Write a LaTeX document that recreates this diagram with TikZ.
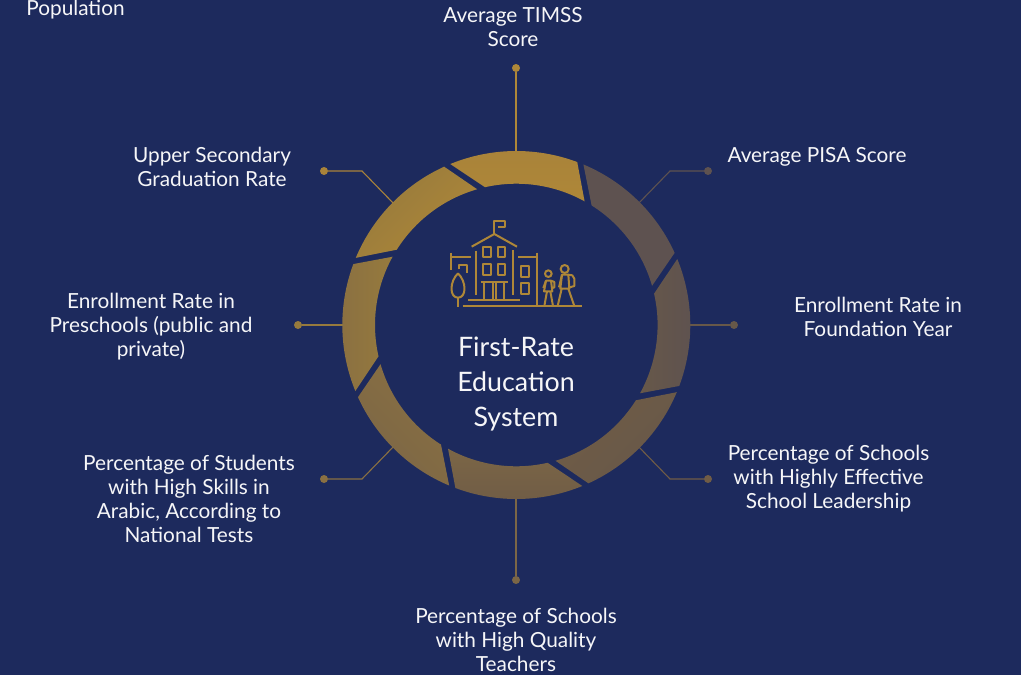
\documentclass[tikz,border=0pt]{standalone}
\usepackage{fontspec}
\setmainfont{Lato}
\usetikzlibrary{calc}
\definecolor{bg}{HTML}{1D2A5D}
\definecolor{gold}{HTML}{AE8738}
\definecolor{ink}{HTML}{F6F6F8}
\definecolor{cA}{HTML}{AE8738}
\definecolor{cB}{HTML}{5E5250}
\definecolor{cC}{HTML}{675849}
\definecolor{cD}{HTML}{705C46}
\definecolor{cE}{HTML}{7B6646}
\definecolor{cF}{HTML}{8A7042}
\definecolor{cG}{HTML}{967A3D}
\definecolor{cH}{HTML}{A9833A}
\tikzset{
  lab/.style={text=ink,font=\fontsize{20.8}{24}\selectfont,align=center,inner sep=0pt},
  ctr/.style={text=ink,font=\fontsize{26.8}{35}\selectfont,align=center,inner sep=0pt},
  dotn/.style={circle,inner sep=0pt,minimum size=8pt},
  conn/.style={line width=1.1pt},
  ico/.style={draw=gold,line width=2pt,line cap=butt,line join=round},
}
\newcommand{\seg}[3]{% theta, startcolor, endcolor
  \pgfmathsetmacro{\sh}{#1-90}
  \shade[left color=#2,right color=#3,shading angle=\sh]
    ($(c)+(#1+22.3:174)$) arc[start angle=#1+22.3,end angle=#1-20.5,radius=174]
    -- ($(c)+(#1-28.9:141.3)$) arc[start angle=#1-28.9,end angle=#1+12.8,radius=141.3] -- cycle;
}
\begin{document}
\begin{tikzpicture}[x=1pt,y=1pt]
\path[use as bounding box,fill=bg] (0,0) rectangle (1021,-675);
\coordinate (c) at (516.3,-325);
% connectors
\node[dotn,fill=cA] (d1) at (516,-68) {};
\node[dotn,fill=cB] (d2) at (708,-171) {};
\node[dotn,fill=cC] (d3) at (734,-325) {};
\node[dotn,fill=cD] (d4) at (708,-479) {};
\node[dotn,fill=cE] (d5) at (516,-580) {};
\node[dotn,fill=cF] (d6) at (324,-479) {};
\node[dotn,fill=cG] (d7) at (298,-325) {};
\node[dotn,fill=cH] (d8) at (324,-171) {};
\coordinate (r1) at (516,-155);
\coordinate (r2) at (636,-206);
\coordinate (b2) at (670,-171);
\coordinate (r3) at (685,-325);
\coordinate (r4) at (636,-444);
\coordinate (b4) at (670,-479);
\coordinate (r5) at (516,-495);
\coordinate (r6) at (396,-444);
\coordinate (b6) at (362,-479);
\coordinate (r7) at (347,-325);
\coordinate (r8) at (396,-206);
\coordinate (b8) at (362,-171);
\draw[conn,cA] (d1)--(r1);
\draw[conn,cB] (d2)--(b2)--(r2);
\draw[conn,cC] (d3)--(r3);
\draw[conn,cD] (d4)--(b4)--(r4);
\draw[conn,cE] (d5)--(r5);
\draw[conn,cF] (d6)--(b6)--(r6);
\draw[conn,cG] (d7)--(r7);
\draw[conn,cH] (d8)--(b8)--(r8);
% ring
\seg{90}{cH}{cA}
\seg{45}{cB}{cB}
\seg{0}{cB}{cC}
\seg{-45}{cC}{cD}
\seg{-90}{cD}{cE}
\seg{-135}{cE}{cF}
\seg{180}{cF}{cG}
\seg{135}{cG}{cA}
% icon
\begin{scope}[shift={(440pt,-210pt)},x=0.3333pt,y=-0.3333pt]
\draw[ico] (163,72)--(163,33)--(195,33)--(195,52)--(175,52);
\draw[ico] (95,110)--(163,72)--(231,110);
\draw[ico] (107,122)--(107,255) (220,120)--(220,255);
\draw[ico] (130,111) rectangle (152,142) (174,111) rectangle (196,142) (130,162) rectangle (152,194) (174,162) rectangle (196,194);
\draw[ico] (122,217)--(205,217) (133,217)--(133,268) (193,217)--(193,268) (158,217)--(158,268) (168,217)--(168,268);
\draw[ico] (85,270)--(241,270) (68,288)--(425,288);
\draw[ico] (235,140)--(290,140) (290,128)--(290,288);
\draw[ico] (244,167) rectangle (267,200) (244,219) rectangle (267,251);
\draw[ico] (34,128)--(34,180) (34,140)--(92,140) (58,178)--(58,165)--(80,165)--(80,190);
\draw[ico] (54,190) .. controls (28,215) and (28,263) .. (54,263) .. controls (80,263) and (80,215) .. (54,190);
\draw[ico] (54,263)--(54,292);
\end{scope}
\begin{scope}[shift={(535pt,-258pt)},x=0.3333pt,y=-0.3333pt]
\draw[ico] (40,47) circle[radius=10];
\draw[ico] (33,68)--(48,68)--(52,100)--(27,100)--cycle;
\draw[ico] (33,68)--(25,90) (48,68)--(58,72)--(58,88)--(52,90);
\draw[ico] (36,100)--(28,144) (46,100)--(54,144);
\draw[ico] (89,33) circle[radius=12];
\draw[ico] (81,50)--(100,50)--(103,92)--(76,92)--cycle;
\draw[ico] (81,50)--(72,88) (100,50)--(112,52)--(118,62)--(118,84)--(104,88);
\draw[ico] (80,92)--(68,144) (100,92)--(118,144);
\end{scope}
% labels
\node[lab] (t0) at (75.5,-10) {Population};
\node[ctr] (tc) at (516,-384) {First-Rate\\Education\\System};
\node[lab] (l1) at (513,-27) {Average TIMSS\\Score};
\node[lab] (l2) at (817,-157) {Average PISA Score};
\node[lab] (l3) at (878,-317) {Enrollment Rate in\\Foundation Year};
\node[lab] (l4) at (828.5,-479) {Percentage of Schools\\with Highly Effective\\School Leadership};
\node[lab] (l5) at (516,-640) {Percentage of Schools\\with High Quality\\Teachers};
\node[lab] (l6) at (189,-499) {Percentage of Students\\with High Skills in\\Arabic, According to\\National Tests};
\node[lab] (l7) at (151,-327) {Enrollment Rate in\\Preschools (public and\\private)};
\node[lab] (l8) at (212,-167) {Upper Secondary\\Graduation Rate};
\end{tikzpicture}
\end{document}
